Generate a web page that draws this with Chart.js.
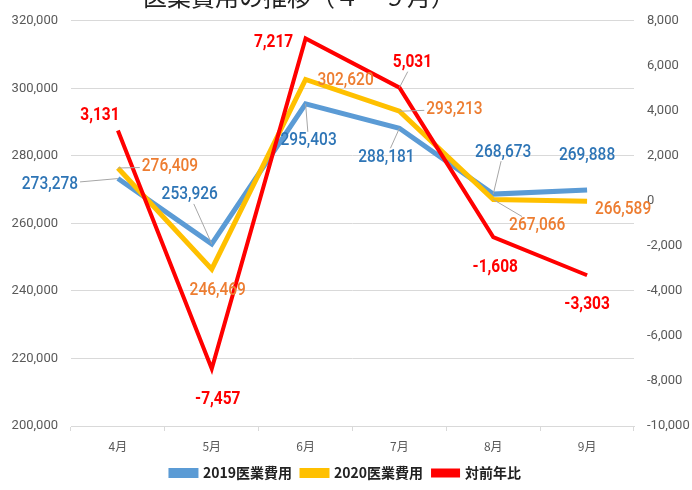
<!DOCTYPE html>
<html><head><meta charset="utf-8">
<script src="https://cdn.jsdelivr.net/npm/chart.js@4"></script>
<style>
html,body{margin:0;padding:0;background:#fff;overflow:hidden;}
#wrap{position:relative;width:692px;height:490px;}
#title{position:absolute;left:143px;top:-16px;font-family:"Noto Sans CJK JP";font-size:24px;line-height:24px;color:#222;white-space:nowrap;z-index:2;}
canvas{position:absolute;left:0;top:0;}
</style></head>
<body><div id="wrap"><div id="title">医業費用の推移（４～９月）</div><canvas id="c" width="692" height="490"></canvas></div>
<script>
const months = ['4月','5月','6月','7月','8月','9月'];
const cost2019 = [273278,253926,295403,288181,268673,269888];
const cost2020 = [276409,246469,302620,293213,267066,266589];
const yoy = [3131,-7457,7217,5031,-1608,-3303];
const seriesNames = ['2019医業費用','2020医業費用','対前年比'];
const leftAxis = {min:200000,max:320000,step:20000};
const rightAxis = {min:-10000,max:8000,step:2000};

// label placement (pixel offsets from point) + leader flag, per dataset
const labelOffsets = [
  [[-68,6,1],[-22,-49,1],[3,37,1],[-13,29,1],[10,-42,1],[0,-35,0]],
  [[52,-1,1],[6,21,0],[40,1,0],[55,-2,1],[44,26,1],[36,8,0]],
  [[-18,-15,0],[6,31,0],[-32,4,0],[13,-25,1],[2,30,0],[0,29,0]]
];
const labelColors = ['#2E75B6','#ED7D31','#FF0000'];
const labelFonts = ['500 18px Roboto','500 18px Roboto','bold 18px Roboto'];
const labelScaleX = 0.86;

const fmt = v => v.toLocaleString('en-US');

const labelPlugin = {
  id:'dl',
  afterDatasetsDraw(chart){
    const ctx = chart.ctx;
    chart.data.datasets.forEach((ds,di)=>{
      const meta = chart.getDatasetMeta(di);
      meta.data.forEach((pt,i)=>{
        const [dx,dy,lead] = labelOffsets[di][i];
        const txt = fmt(ds.data[i]);
        const cx = pt.x+dx, cy = pt.y+dy;
        ctx.save();
        ctx.font = labelFonts[di];
        const w = ctx.measureText(txt).width*labelScaleX/2+2, h = 9;
        if(lead){
          const vx = pt.x-cx, vy = pt.y-cy;
          const t = Math.min(Math.abs(vx)>0? w/Math.abs(vx):1e9, Math.abs(vy)>0? h/Math.abs(vy):1e9);
          if(t<1){
            ctx.strokeStyle='#A6A6A6';ctx.lineWidth=1;
            ctx.beginPath();ctx.moveTo(cx+vx*t,cy+vy*t);ctx.lineTo(pt.x,pt.y);ctx.stroke();
          }
        }
        ctx.fillStyle = labelColors[di];
        ctx.textAlign='center';ctx.textBaseline='middle';
        ctx.translate(cx,cy);ctx.scale(labelScaleX,1);
        ctx.fillText(txt,0,0);
        ctx.restore();
      });
    });
  }
};

const tickFont = {family:'Roboto',size:13};

new Chart(document.getElementById('c'),{
  type:'line',
  data:{
    labels:months,
    datasets:[
      {label:seriesNames[0],data:cost2019,borderColor:'#5B9BD5',backgroundColor:'#5B9BD5',borderWidth:5,yAxisID:'y',order:3},
      {label:seriesNames[1],data:cost2020,borderColor:'#FFC000',backgroundColor:'#FFC000',borderWidth:5,yAxisID:'y',order:2},
      {label:seriesNames[2],data:yoy,borderColor:'#FF0000',backgroundColor:'#FF0000',borderWidth:4,yAxisID:'y1',order:1}
    ]
  },
  options:{
    responsive:false,animation:false,
    elements:{point:{radius:0},line:{tension:0,borderJoinStyle:'miter'}},
    layout:{padding:{top:18,left:0,right:0,bottom:0}},
    plugins:{
      tooltip:{enabled:false},
      legend:{position:'bottom',
        labels:{sort:(a,b)=>a.datasetIndex-b.datasetIndex,boxWidth:25,boxHeight:5,padding:10,color:'#222',
          font:{family:'"Noto Sans CJK JP"',size:14,weight:'bold'}}}
    },
    scales:{
      x:{offset:true,
        grid:{offset:true,drawOnChartArea:false,drawTicks:true,tickLength:5,color:'#D9D9D9'},
        border:{color:'#D9D9D9'},
        ticks:{color:'#595959',font:{family:'"Noto Sans CJK JP"',size:12},padding:8},
        afterFit(s){s.height=30;}
      },
      y:{position:'left',min:leftAxis.min,max:leftAxis.max,
        ticks:{stepSize:leftAxis.step,color:'#595959',font:tickFont,padding:13,callback:v=>fmt(v)},
        grid:{color:'#D9D9D9',drawTicks:false},border:{display:false},
        afterFit(s){s.width=71;}
      },
      y1:{position:'right',min:rightAxis.min,max:rightAxis.max,
        ticks:{stepSize:rightAxis.step,color:'#595959',font:tickFont,padding:13,callback:v=>fmt(v)},
        grid:{drawOnChartArea:false,drawTicks:false},border:{display:false},
        afterFit(s){s.width=58;}
      }
    }
  },
  plugins:[labelPlugin]
});
</script></body></html>
